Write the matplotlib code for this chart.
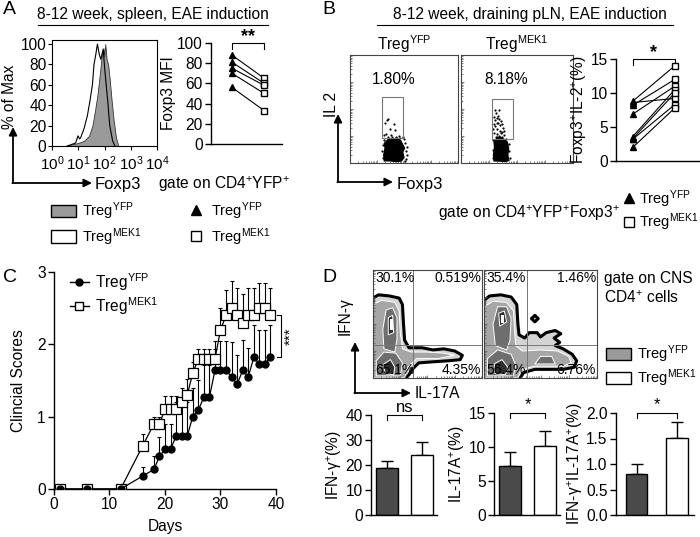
import matplotlib
matplotlib.use("Agg")
import matplotlib.pyplot as plt
from matplotlib.patches import Patch, Polygon, Rectangle
from matplotlib.lines import Line2D
import numpy as np

plt.rcParams['font.family'] = ['Liberation Sans', 'DejaVu Sans']
plt.rcParams['mathtext.fontset'] = 'custom'
plt.rcParams['mathtext.rm'] = 'Liberation Sans'
plt.rcParams['mathtext.it'] = 'Liberation Sans:italic'
plt.rcParams['mathtext.bf'] = 'Liberation Sans:bold'
plt.rcParams['font.size'] = 11
plt.rcParams['axes.linewidth'] = 1.0

W, H = 700, 537
FS = 11.2
LFS = 10.5

# -----------------------------------------------------------
#   Data
# -----------------------------------------------------------

# A: Foxp3 histograms (log10 intensity -> % of max)
hist_yfp_log = [0.5, 0.83, 1.0, 1.22, 1.41, 1.54, 1.64, 1.73, 1.82, 1.9, 1.96, 1.99, 2.03, 2.08, 2.14, 2.2, 2.27, 2.35, 2.44, 2.53]
hist_yfp_pct = [0, 2, 3, 5, 10, 20, 35, 50, 70, 90, 96, 88, 100, 85, 80, 65, 45, 25, 8, 0]
hist_mek_log = [0.58, 0.8, 0.9, 0.99, 1.05, 1.09, 1.22, 1.35, 1.45, 1.54, 1.6, 1.67, 1.73, 1.8, 1.86, 1.95, 2.01, 2.12, 2.2, 2.31, 2.4]
hist_mek_pct = [0, 2, 3, 10, 7, 8, 17, 30, 45, 60, 80, 90, 100, 90, 85, 95, 75, 45, 20, 5, 0]

# A: Foxp3 MFI, paired
mfi_yfp = [88, 81, 75, 70, 56]
mfi_mek = [65, 60, 58, 50, 33]

# B: dot plots (log10 Foxp3, log10 IL-2)
b_titles = ['Treg$^{\\mathrm{YFP}}$', 'Treg$^{\\mathrm{MEK1}}$']
b_pct = ['1.80%', '8.18%']
b_gates = [(1.19, 0.93, 1.96, 2.44), (1.11, 0.89, 1.86, 2.36)]
b_clouds = [
    [(1.27, 0.08), (1.25, 0.3), (1.3, 0.55), (1.27, 0.72), (1.36, 0.82), (1.45, 0.9), (1.6, 0.86),
     (1.75, 0.92), (1.88, 0.82), (1.95, 0.68), (2.02, 0.55), (1.95, 0.4), (2.0, 0.2), (1.9, 0.07), (1.7, 0.05), (1.5, 0.08)],
    [(1.18, 0.08), (1.16, 0.3), (1.2, 0.6), (1.18, 0.78), (1.27, 0.9), (1.4, 0.96), (1.53, 0.88),
     (1.65, 0.78), (1.7, 0.55), (1.67, 0.3), (1.71, 0.1), (1.6, 0.05), (1.4, 0.07)],
]
b_dots = [
    [(1.36, 1.59), (1.42, 1.63), (1.30, 1.50), (1.62, 1.45), (1.47, 1.25), (1.66, 1.22), (1.33, 1.08),
     (1.27, 1.05), (1.52, 1.02), (2.1, 0.6), (2.12, 0.3), (1.2, 0.45), (1.8, 1.0), (2.0, 0.9),
     (1.23, 0.2), (1.22, 0.65), (1.4, 0.95), (1.7, 0.98), (2.05, 0.75), (2.08, 0.45), (2.03, 0.08),
     (1.95, 0.95), (1.25, 0.85), (1.55, 0.98), (2.06, 0.15), (1.85, 0.92)],
    [(1.21, 1.95), (1.35, 1.95), (1.18, 1.71), (1.27, 1.65), (1.33, 1.48), (1.43, 1.54), (1.21, 1.36),
     (1.30, 1.27), (1.38, 1.20), (1.46, 1.15), (1.19, 1.12), (1.27, 1.06), (1.36, 1.01), (1.45, 0.98),
     (1.54, 1.03), (1.24, 0.97), (1.17, 1.45), (1.40, 1.40), (1.25, 1.85), (1.50, 1.30), (1.32, 1.75),
     (1.22, 1.58), (1.42, 1.10), (1.30, 1.50), (1.55, 1.18), (1.15, 1.25), (1.48, 1.45), (1.35, 1.62),
     (1.14, 0.5), (1.13, 0.2), (1.15, 0.85), (1.73, 0.45), (1.74, 0.2), (1.7, 0.7), (1.6, 0.9), (1.3, 0.98)],
]

# B: Foxp3+IL-2+ (%), paired
il2_yfp = [8.8, 8.6, 8.2, 6.9, 3.6, 3.3, 3.2, 2.0]
il2_mek = [14.0, 9.2, 12.0, 11.0, 10.5, 10.0, 8.3, 7.8]

# C: clinical scores
days = [1, 6, 12, 16, 18, 19, 20, 21, 22, 23, 24, 25, 26, 27, 28, 29, 30, 31, 32, 33, 34, 35, 36, 37, 38, 39]
score_yfp = [0, 0, 0, 0.18, 0.27, 0.45, 0.55, 0.55, 0.73, 0.73, 0.73, 1.0, 1.09, 1.27, 1.27,
             1.64, 1.64, 1.64, 1.55, 1.45, 1.64, 1.55, 1.82, 1.73, 1.73, 1.82]
err_yfp = [0, 0, 0, 0.12, 0.18, 0.27, 0.35, 0.35, 0.47, 0.47, 0.47, 0.4, 0.42, 0.45, 0.45,
           0.4, 0.4, 0.4, 0.48, 0.4, 0.42, 0.4, 0.45, 0.47, 0.47, 0.45]
score_mek = [0, 0, 0, 0.6, 0.9, 0.9, 1.1, 1.1, 1.1, 1.2, 1.3, 1.6, 1.8, 1.8, 1.8,
             1.8, 2.2, 2.4, 2.5, 2.4, 2.3, 2.4, 2.4, 2.5, 2.5, 2.4]
err_mek = [0, 0, 0, 0.16, 0.1, 0.1, 0.18, 0.18, 0.18, 0.2, 0.22, 0.15, 0.13, 0.13, 0.13,
           0.13, 0.3, 0.35, 0.38, 0.38, 0.4, 0.38, 0.38, 0.35, 0.35, 0.38]

# D: contour plots (axes fraction)
d_quad = [(0.37, 0.31), (0.38, 0.31)]
d_pct = [['30.1%', '0.519%', '65.1%', '4.35%'], ['35.4%', '1.46%', '56.4%', '6.76%']]
d1_levels = [
    [[(0, 0), (0, 0.74), (0.05, 0.77), (0.15, 0.76), (0.24, 0.74), (0.27, 0.68), (0.28, 0.5), (0.29, 0.35),
      (0.33, 0.28), (0.45, 0.28), (0.55, 0.26), (0.65, 0.27), (0.75, 0.25), (0.82, 0.21), (0.8, 0.17),
      (0.7, 0.16), (0.55, 0.15), (0.42, 0.14), (0.36, 0.08), (0.33, 0.03), (0.3, 0)]],
    [[(0, 0), (0, 0.68), (0.08, 0.72), (0.2, 0.7), (0.24, 0.62), (0.25, 0.42), (0.27, 0.27), (0.35, 0.24),
      (0.5, 0.24), (0.65, 0.23), (0.74, 0.21), (0.6, 0.18), (0.4, 0.18), (0.32, 0.1), (0.29, 0)]],
    [[(0.1, 0.27), (0.09, 0.45), (0.12, 0.63), (0.18, 0.65), (0.22, 0.56), (0.22, 0.36), (0.2, 0.24)],
     [(0.03, 0.02), (0.03, 0.16), (0.1, 0.24), (0.21, 0.23), (0.27, 0.14), (0.25, 0.02)]],
    [[(0.14, 0.4), (0.14, 0.56), (0.18, 0.58), (0.19, 0.42)],
     [(0.11, 0.04), (0.1, 0.13), (0.16, 0.17), (0.2, 0.1), (0.19, 0.03)]],
    [[(0.155, 0.45), (0.155, 0.55), (0.175, 0.55), (0.175, 0.45)]],
]
d2_levels = [
    [[(0, 0), (0, 0.72), (0.05, 0.76), (0.15, 0.77), (0.24, 0.75), (0.29, 0.68), (0.3, 0.5), (0.31, 0.4),
      (0.36, 0.37), (0.4, 0.42), (0.47, 0.42), (0.5, 0.38), (0.55, 0.42), (0.63, 0.44), (0.68, 0.41),
      (0.62, 0.37), (0.67, 0.33), (0.63, 0.3), (0.7, 0.27), (0.78, 0.22), (0.82, 0.16), (0.8, 0.1),
      (0.7, 0.08), (0.45, 0.08), (0.35, 0.05), (0.32, 0)],
     [(0.42, 0.55), (0.45, 0.58), (0.48, 0.55), (0.45, 0.52)]],
    [[(0, 0), (0, 0.66), (0.08, 0.71), (0.2, 0.7), (0.26, 0.62), (0.27, 0.45), (0.28, 0.3), (0.34, 0.25),
      (0.5, 0.26), (0.65, 0.25), (0.75, 0.2), (0.77, 0.14), (0.7, 0.11), (0.45, 0.11), (0.33, 0.08), (0.3, 0)]],
    [[(0.1, 0.3), (0.08, 0.5), (0.12, 0.66), (0.2, 0.66), (0.24, 0.55), (0.23, 0.35), (0.2, 0.26)],
     [(0.03, 0.02), (0.03, 0.18), (0.12, 0.26), (0.24, 0.22), (0.28, 0.12), (0.26, 0.02)],
     [(0.45, 0.13), (0.5, 0.2), (0.6, 0.2), (0.63, 0.13)]],
    [[(0.14, 0.48), (0.13, 0.6), (0.18, 0.62), (0.2, 0.52)],
     [(0.1, 0.04), (0.09, 0.13), (0.16, 0.17), (0.21, 0.1), (0.19, 0.03)]],
    [[(0.15, 0.52), (0.15, 0.58), (0.17, 0.58), (0.17, 0.52)]],
]

# D: bar charts
ifn_mean, ifn_err = [18.7, 24.0], [2.9, 5.3]
il17_mean, il17_err = [7.2, 10.1], [2.0, 2.2]
dp_mean, dp_err = [0.8, 1.51], [0.2, 0.31]

# -----------------------------------------------------------
#   Helpers
# -----------------------------------------------------------

fig = plt.figure(figsize=(7, 5.37), dpi=100)

ov = fig.add_axes([0, 0, 1, 1])
ov.set_xlim(0, W)
ov.set_ylim(H, 0)
ov.axis('off')


def px_axes(l, t, r, b):
    return fig.add_axes([l / W, 1 - b / H, (r - l) / W, (b - t) / H])


def ftext(x, y, s, **kw):
    kw.setdefault('va', 'center')
    kw.setdefault('fontsize', FS)
    fig.text(x / W, 1 - y / H, s, **kw)


def corner_arrow(x0, y0, ytip, xtip):
    ap = dict(arrowstyle='-|>', lw=1.3, color='k', mutation_scale=12, shrinkA=0, shrinkB=0)
    ov.annotate('', xy=(x0, ytip), xytext=(x0, y0), arrowprops=ap)
    ov.annotate('', xy=(xtip, y0), xytext=(x0 - 0.65, y0), arrowprops=ap)


def flow_ticks(ax, span=4.0):
    ax.set_xlim(0, span)
    ax.set_ylim(0, span)
    major = [d * span / 4 for d in range(5)]
    minor = [(d + np.log10(k)) * span / 4 for d in range(4) for k in range(2, 10)]
    for axis in (ax.xaxis, ax.yaxis):
        axis.set_ticks(major)
        axis.set_ticks(minor, minor=True)
    ax.tick_params(which='both', direction='in', labelleft=False, labelbottom=False, width=0.5, color='#555555')
    ax.tick_params(which='major', length=2.5)
    ax.tick_params(which='minor', length=1.3)
    for s in ax.spines.values():
        s.set_linewidth(0.8)
        s.set_color('#444444')


def clean(ax):
    ax.spines['top'].set_visible(False)
    ax.spines['right'].set_visible(False)
    ax.tick_params(direction='out', length=4, width=1, labelsize=FS, pad=2)


def two_legend(handles, x, y, **kw):
    opts = dict(loc='upper left', frameon=False, fontsize=LFS, borderpad=0, borderaxespad=0)
    opts.update(kw)
    fig.legend(handles=handles, labels=['Treg$^{\\mathrm{YFP}}$', 'Treg$^{\\mathrm{MEK1}}$'],
               bbox_to_anchor=(x / W, 1 - y / H), **opts)


def paired(ax, a, b, ylim, yticks, ylabel, star):
    for u, v in zip(a, b):
        ax.plot([1, 2], [u, v], color='k', lw=0.8)
    ax.plot([1] * len(a), a, '^', color='k', ms=5, zorder=3)
    ax.plot([2] * len(b), b, 's', mfc='white', mec='k', mew=1, ms=5, zorder=3)
    ax.set_ylim(*ylim)
    ax.set_yticks(yticks)
    ax.set_xticks([])
    clean(ax)
    ax.set_ylabel(ylabel, fontsize=FS, labelpad=1)
    top = ylim[1]
    d = (ylim[1] - ylim[0]) * 0.06
    ax.plot([1, 1, 2, 2], [top - d, top, top, top - d], color='k', lw=0.8, clip_on=False)
    ax.text(1.5, top - d * 0.3, star, ha='center', va='bottom', fontsize=13, fontweight='bold', clip_on=False)


def bars(ax, mean, err, xs, xmax, ylim, yticks, labels, ylabel, sig):
    ax.bar(xs, mean, width=1.0, color=['#4a4a4a', 'white'], edgecolor='k', lw=1, zorder=2)
    ax.errorbar(xs, mean, yerr=[[0, 0], err], fmt='none', ecolor='k', elinewidth=1, capsize=4, capthick=1, zorder=1)
    ax.set_xlim(0, xmax)
    ax.set_ylim(*ylim)
    ax.set_yticks(yticks)
    ax.set_yticklabels(labels)
    ax.set_xticks([])
    clean(ax)
    ax.set_ylabel(ylabel, fontsize=FS, labelpad=1)
    top = ylim[1]
    d = (ylim[1] - ylim[0]) * 0.05
    ax.plot([xs[0], xs[0], xs[1], xs[1]], [top - d, top, top, top - d], color='k', lw=0.8, clip_on=False)
    ax.text(sum(xs) / 2, top + d * 0.1, sig, ha='center', va='bottom', fontsize=12, clip_on=False)


# -----------------------------------------------------------
#   Panel A
# -----------------------------------------------------------

ftext(3, 10, 'A', fontsize=14)
ftext(153, 15, '8-12 week, spleen, EAE induction', ha='center')
ov.plot([38, 268], [25, 25], color='k', lw=0.8)

axh = px_axes(52, 40, 157, 146)
axh.fill_between(10 ** np.array(hist_yfp_log), hist_yfp_pct, color='#9a9a9a', edgecolor='#333333', lw=0.6)
axh.plot(10 ** np.array(hist_mek_log), hist_mek_pct, color='k', lw=0.8)
axh.set_xscale('log')
axh.set_xlim(1, 1e4)
axh.set_ylim(0, 104)
axh.set_yticks([0, 20, 40, 60, 80, 100])
axh.set_xticks([1, 10, 100, 1000, 10000])
axh.tick_params(direction='out', length=3, width=0.8, labelsize=FS, pad=1)
axh.tick_params(axis='x', labelsize=11, pad=3)
axh.tick_params(which='minor', length=1.5, width=0.6)
for s in axh.spines.values():
    s.set_linewidth(0.8)

corner_arrow(13, 183, 127, 92)
ftext(10, 97, '% of Max', rotation=90, ha='center')
ftext(95, 184, 'Foxp3', ha='left', fontsize=12)
ftext(158, 184, 'gate on CD4$^{+}$YFP$^{+}$', ha='left')

axp = px_axes(211, 43, 282, 144)
axp.set_xlim(0.35, 2.55)
paired(axp, mfi_yfp, mfi_mek, (0, 100), [0, 20, 40, 60, 80, 100], 'Foxp3 MFI', '**')

two_legend([Patch(facecolor='#9a9a9a', edgecolor='k'), Patch(facecolor='white', edgecolor='k')], 51, 200,
           handlelength=1.7, handleheight=0.9, handletextpad=0.4, labelspacing=0.3)
two_legend([Line2D([], [], ls='none', marker='^', color='k', ms=7),
            Line2D([], [], ls='none', marker='s', mfc='white', mec='k', ms=7)], 189, 200,
           handlelength=1.0, handletextpad=0.5, labelspacing=0.3)

# -----------------------------------------------------------
#   Panel B
# -----------------------------------------------------------

ftext(322, 10, 'B', fontsize=14)
ftext(530, 15, '8-12 week, draining pLN, EAE induction', ha='center')
ov.plot([377, 673], [25, 25], color='k', lw=0.8)

for i, (l, r) in enumerate([(350, 458), (461, 573)]):
    ax = px_axes(l, 55, r, 163)
    flow_ticks(ax)
    ax.add_patch(Polygon(b_clouds[i], closed=True, facecolor='k', edgecolor='k', lw=1.0))
    dx, dy = zip(*b_dots[i])
    ax.scatter(dx, dy, s=2.5, color='k', lw=0)
    gx0, gy0, gx1, gy1 = b_gates[i]
    ax.add_patch(Rectangle((gx0, gy0), gx1 - gx0, gy1 - gy0, fill=False, edgecolor='#777777', lw=0.8))
    ax.text(1.6, 3.1, b_pct[i], ha='center', va='center', fontsize=FS)
    ax.set_title(b_titles[i], fontsize=FS, pad=1)

corner_arrow(338, 182, 114, 393)
ftext(331, 104, 'IL 2', rotation=90, ha='center')
ftext(397, 184, 'Foxp3', ha='left', fontsize=12)

axb = px_axes(616, 59, 700, 161)
axb.set_xlim(0.6, 2.6)
paired(axb, il2_yfp, il2_mek, (0, 15), [0, 5, 10, 15], 'Foxp3$^{+}$IL-2$^{+}$(%)', '*')

ftext(620, 213, 'gate on CD4$^{+}$YFP$^{+}$Foxp3$^{+}$', ha='right')
two_legend([Line2D([], [], ls='none', marker='^', color='k', ms=7),
            Line2D([], [], ls='none', marker='s', mfc='white', mec='k', ms=7)], 623, 188,
           handlelength=0.8, handletextpad=0.3, labelspacing=0.15)

# -----------------------------------------------------------
#   Panel C
# -----------------------------------------------------------

ftext(3, 278, 'C', fontsize=14)
axc = px_axes(54, 272, 276, 489)
axc.errorbar(days, score_mek, yerr=[[0] * len(days), err_mek], fmt='none', ecolor='k', elinewidth=0.8, capsize=1.5, capthick=0.8)
axc.errorbar(days, score_yfp, yerr=[[0] * len(days), err_yfp], fmt='none', ecolor='k', elinewidth=0.8, capsize=1.5, capthick=0.8)
axc.plot(days, score_mek, '-s', color='k', lw=0.9, ms=6.5, mfc='white', mec='k', mew=0.9, zorder=3)
axc.plot(days, score_yfp, '-o', color='k', lw=0.9, ms=5, zorder=4)
axc.set_xlim(0, 40)
axc.set_ylim(0, 3)
axc.set_xticks([0, 10, 20, 30, 40])
axc.set_yticks([0, 1, 2, 3])
clean(axc)
axc.set_xlabel('Days', fontsize=FS, labelpad=5)
axc.set_ylabel('Clincial Scores', fontsize=FS, labelpad=8)
axc.plot([40.1, 40.9, 40.9, 40.1], [2.4, 2.4, 1.82, 1.82], color='k', lw=0.8, clip_on=False)
axc.text(42.6, 2.11, '***', rotation=90, ha='center', va='center', fontsize=11, clip_on=False)
axc.legend(handles=[Line2D([], [], color='k', lw=1, marker='o', ms=5),
                    Line2D([], [], color='k', lw=1, marker='s', ms=6, mfc='white')],
           labels=['Treg$^{\\mathrm{YFP}}$', 'Treg$^{\\mathrm{MEK1}}$'],
           loc='upper left', bbox_to_anchor=(70 / W, 1 - 271 / H), bbox_transform=fig.transFigure,
           frameon=False, fontsize=FS, handlelength=1.2, handletextpad=0.4, labelspacing=0.15,
           borderpad=0, borderaxespad=0)

# -----------------------------------------------------------
#   Panel D
# -----------------------------------------------------------

ftext(322, 278, 'D', fontsize=14)
level_face = ['#d4d4d4', '#a6a6a6', '#6e6e6e', '#2e2e2e', 'white']
for i, ((l, r), levels) in enumerate(zip([(373, 482), (484, 597)], [d1_levels, d2_levels])):
    ax = px_axes(l, 270, r, 378)
    flow_ticks(ax, span=1.0)
    for k, polys in enumerate(levels):
        for poly in polys:
            if k == 0:
                ax.add_patch(Polygon(poly, closed=True, facecolor=level_face[k], edgecolor='k', lw=2.2, joinstyle='round'))
            else:
                ax.add_patch(Polygon(poly, closed=True, facecolor=level_face[k], edgecolor='white', lw=0.7, joinstyle='round'))
    qx, qy = d_quad[i]
    ax.axvline(qx, color='#777777', lw=0.7)
    ax.axhline(qy, color='#777777', lw=0.7)
    tl, tr, bl, br = d_pct[i]
    ax.text(0.02, 0.99, tl, ha='left', va='top', fontsize=10)
    ax.text(0.99, 0.99, tr, ha='right', va='top', fontsize=10)
    ax.text(0.02, 0.005, bl, ha='left', va='bottom', fontsize=10)
    ax.text(0.99, 0.005, br, ha='right', va='bottom', fontsize=10)

corner_arrow(355, 393, 342, 411)
ftext(345, 316, 'IFN-γ', rotation=90, ha='center')
ftext(415, 394, 'IL-17A', ha='left')
ftext(604, 279, 'gate on CNS', ha='left')
ftext(604, 298, 'CD4$^{+}$ cells', ha='left')

two_legend([Patch(facecolor='#9a9a9a', edgecolor='k'), Patch(facecolor='white', edgecolor='k')], 606, 343,
           handlelength=1.7, handleheight=0.9, handletextpad=0.4, labelspacing=0.2)

ax1 = px_axes(371, 415, 437, 515)
bars(ax1, ifn_mean, ifn_err, [0.73, 2.32], 3.0, (0, 40), [0, 10, 20, 30, 40],
     ['0', '10', '20', '30', '40'], 'IFN-γ$^{+}$(%)', 'ns')
ax2 = px_axes(494, 413, 560, 515)
bars(ax2, il17_mean, il17_err, [0.73, 2.32], 3.0, (0, 15), [0, 5, 10, 15],
     ['0', '5', '10', '15'], 'IL-17A$^{+}$(%)', '*')
ax3 = px_axes(616, 413, 694, 515)
bars(ax3, dp_mean, dp_err, [0.95, 2.8], 3.6, (0, 2), [0, 0.5, 1.0, 1.5, 2.0],
     ['0.0', '0.5', '1.0', '1.5', '2.0'], 'IFN-γ$^{+}$IL-17A$^{+}$(%)', '*')

fig.savefig('out.png', dpi=100)
